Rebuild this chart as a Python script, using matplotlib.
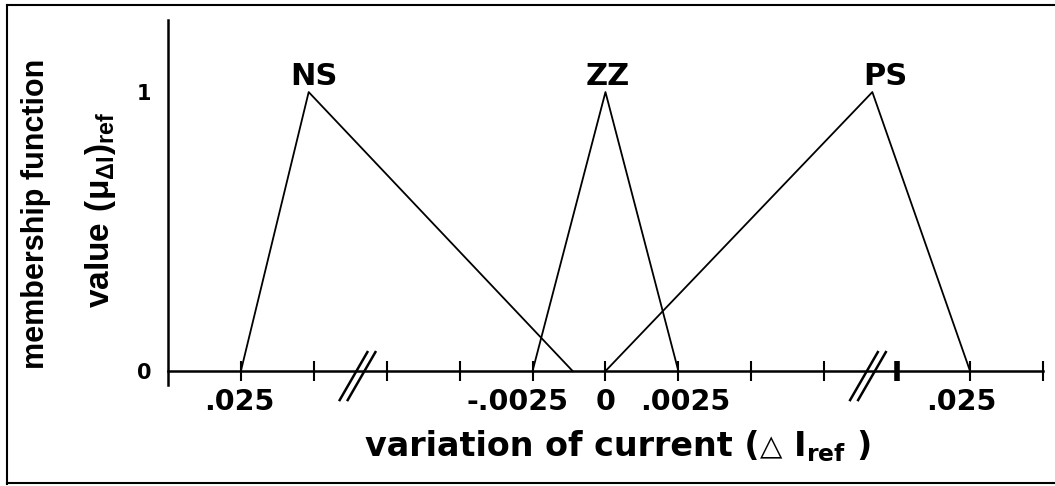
import numpy as np
import matplotlib.pyplot as plt
from matplotlib.offsetbox import TextArea, HPacker, AnnotationBbox
from matplotlib.transforms import ScaledTranslation

plt.rcParams['font.family'] = ['DejaVu Sans']
plt.rcParams['font.weight'] = 'bold'
plt.rcParams['mathtext.fontset'] = 'custom'
plt.rcParams['mathtext.rm'] = 'DejaVu Sans:bold'
plt.rcParams['mathtext.bf'] = 'DejaVu Sans:bold'
plt.rcParams['mathtext.it'] = 'DejaVu Sans:bold'
plt.rcParams['mathtext.sf'] = 'Liberation Sans:bold'

# Membership functions (x in tick units, 0 = zero change)
names = ['NS', 'ZZ', 'PS']
ns_x = [-5, -4.07, -0.45]
zz_x = [-1, 0, 1]
ps_x = [0, 3.66, 5]
mu = [0, 1, 0]

tick_pos = [-5, -4, -3, -2, -1, 0, 1, 2, 3, 4, 5, 6]
tick_lbl = ['.025', '', '', '', '-.0025', '0', '.0025', '', '', '', '.025', '']
lbl_shift = [-0.02, 0, 0, 0, -0.15, 0, 0.07, 0, 0, 0, -0.09, 0]
breaks = [-3.4, 3.6]

fig = plt.figure(figsize=(10.55, 4.86), dpi=100)
ax = fig.add_axes([0.1592, 0.2078, 0.8294, 0.752])
ax.set_xlim(-6, 6)
ax.set_ylim(-0.05, 1.26)

for xs in (ns_x, zz_x, ps_x):
    ax.plot(xs, mu, color='black', lw=1.3)

for name, xs, dx in zip(names, (ns_x, zz_x, ps_x), [0.07, 0.03, 0.18]):
    ax.text(xs[1] + dx, 1.025, name, ha='center', va='baseline', fontsize=22, fontweight='bold')

# axis break marks
for b in breaks:
    for off in (-0.055, 0.055):
        ax.plot([b - 0.19 + off, b + 0.19 + off], [-0.104, 0.068], color='black', lw=1.8,
                clip_on=False)

ax.spines['top'].set_visible(False)
ax.spines['right'].set_visible(False)
ax.spines['bottom'].set_position(('data', 0))
ax.spines['left'].set_linewidth(1.8)
ax.spines['bottom'].set_linewidth(1.8)

ax.set_xticks(tick_pos)
ax.set_xticklabels(tick_lbl, fontsize=20.5, fontweight='bold')
ax.tick_params(axis='x', direction='inout', length=14, width=1.5, pad=5)
ax.xaxis.get_major_ticks()[9].tick1line.set_markeredgewidth(4)
for lab, s in zip(ax.get_xticklabels(), lbl_shift):
    lab.set_transform(lab.get_transform() + ScaledTranslation(s, 0, fig.dpi_scale_trans))
ax.set_yticks([0, 1])
ax.set_yticklabels(['0', '1'], fontsize=15, fontweight='bold')
ax.tick_params(axis='y', length=0, pad=12)

fig.text(0.034, 0.56, 'membership function', rotation=90, ha='center', va='center',
         fontsize=22, fontweight='bold', family='Liberation Sans')
fig.text(0.095, 0.568,
         r'$\mathsf{value\ (\mu}_{\mathsf{\Delta I}}\mathsf{)}_{\mathsf{ref}}$',
         rotation=90, ha='center', va='center', fontsize=24)

# x axis title, triangle set smaller than the words
xlab = HPacker(children=[
    TextArea('variation of current (', textprops=dict(fontsize=24, fontweight='bold')),
    TextArea('\u25b3', textprops=dict(fontsize=21)),
    TextArea(r' I$_{\mathrm{ref}}$ )', textprops=dict(fontsize=24, fontweight='bold')),
], align='baseline', pad=0, sep=0)
fig.add_artist(AnnotationBbox(xlab, (0.586, 0.083), xycoords='figure fraction',
                              frameon=False, box_alignment=(0.5, 0.5)))

# frame round the figure
fig.add_artist(plt.Line2D([0.007, 0.007], [0.004, 0.99], color='black', lw=1.5))
fig.add_artist(plt.Line2D([0.007, 1.0], [0.99, 0.99], color='black', lw=1.5))
fig.add_artist(plt.Line2D([0.007, 1.0], [0.006, 0.006], color='black', lw=1.5))

fig.savefig('out.png', dpi=100)
